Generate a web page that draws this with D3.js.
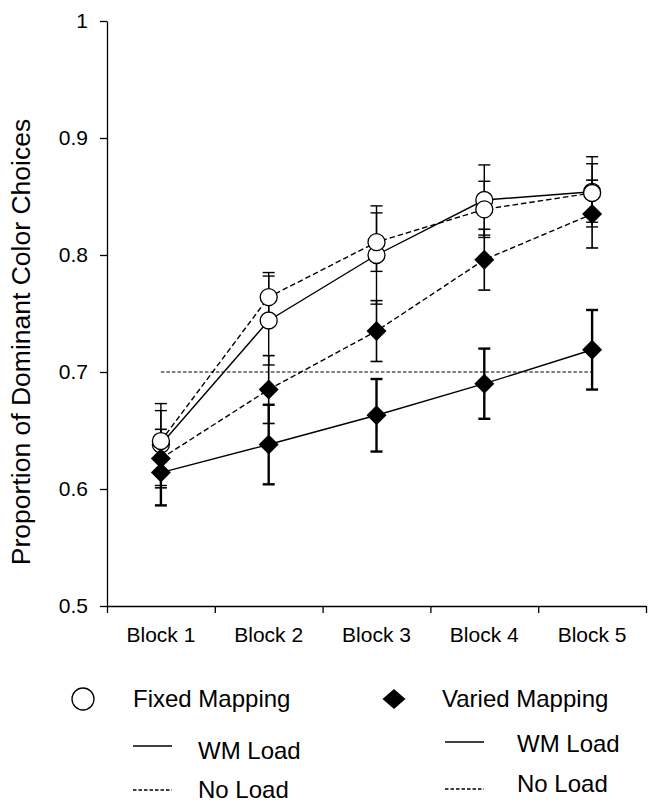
<!DOCTYPE html>
<html>
<head>
<meta charset="utf-8">
<script src="https://cdn.jsdelivr.net/npm/d3@7"></script>
<style>
  body { margin: 0; background: #fff; }
  svg { font-family: "Liberation Sans", Arial, sans-serif; }
</style>
</head>
<body>
<svg id="chart" width="649" height="802"></svg>
<script>
var blocks = ["Block 1", "Block 2", "Block 3", "Block 4", "Block 5"];
var yTicks = [0.5, 0.6, 0.7, 0.8, 0.9, 1];

var fixedWM = [0.638, 0.744, 0.800, 0.847, 0.854];
var fixedWMErr = [0.035, 0.038, 0.042, 0.030, 0.030];
var fixedNL = [0.641, 0.764, 0.811, 0.839, 0.853];
var fixedNLErr = [0.026, 0.021, 0.025, 0.024, 0.025];
var variedWM = [0.614, 0.638, 0.663, 0.690, 0.719];
var variedWMErr = [0.028, 0.034, 0.031, 0.030, 0.034];
var variedNL = [0.626, 0.685, 0.735, 0.796, 0.835];
var variedNLErr = [0.025, 0.029, 0.026, 0.026, 0.029];
var refLevel = 0.7;

var series = [
  { name: "Fixed WM", vals: fixedWM, err: fixedWMErr, marker: "circle", dash: null, ew: 1.4 },
  { name: "Fixed NL", vals: fixedNL, err: fixedNLErr, marker: "circle", dash: "5.5,3", ew: 1.4 },
  { name: "Varied WM", vals: variedWM, err: variedWMErr, marker: "diamond", dash: null, ew: 2.4 },
  { name: "Varied NL", vals: variedNL, err: variedNLErr, marker: "diamond", dash: "5.5,3", ew: 1.6 }
];

var svg = d3.select("#chart");
var plotLeft = 107, plotRight = 646, plotTop = 21, plotBottom = 606;

var x = d3.scaleBand().domain(blocks).range([plotLeft, plotRight]).padding(0);
var y = d3.scaleLinear().domain([0.5, 1]).range([plotBottom, plotTop]);
function cx(i) { return x(blocks[i]) + x.bandwidth() / 2; }

// y axis
var yAxis = svg.append("g")
    .attr("transform", "translate(" + plotLeft + ",0)")
    .call(d3.axisLeft(y).tickValues(yTicks).tickSize(7).tickSizeOuter(0).tickPadding(12)
      .tickFormat(function(d) { return d === 1 ? "1" : d.toFixed(1); }));
yAxis.selectAll("text").style("font-size", "21px").attr("fill", "#000");

// x axis: boundary ticks + centred labels
var xb = d3.scaleLinear().domain([0, blocks.length]).range([plotLeft, plotRight]);
svg.append("g")
    .attr("transform", "translate(0," + plotBottom + ")")
    .call(d3.axisBottom(xb).ticks(5).tickSize(7).tickSizeOuter(0).tickFormat(""));
var xAxis = svg.append("g")
    .attr("transform", "translate(0," + plotBottom + ")")
    .call(d3.axisBottom(x).tickSize(0).tickPadding(21));
xAxis.select(".domain").remove();
xAxis.selectAll("text").style("font-size", "21px").attr("fill", "#000");

svg.selectAll(".domain, .tick line").attr("stroke", "#000").attr("stroke-width", 1.3);

// y title
svg.append("text")
    .attr("transform", "translate(30,342) rotate(-90)")
    .attr("text-anchor", "middle")
    .style("font-size", "26.5px")
    .text("Proportion of Dominant Color Choices");

// reference line at 0.7
svg.append("line")
    .attr("x1", cx(0)).attr("x2", cx(blocks.length - 1))
    .attr("y1", y(refLevel)).attr("y2", y(refLevel))
    .attr("stroke", "#000").attr("stroke-width", 1.2)
    .attr("stroke-dasharray", "3.5,2");

var line = d3.line()
    .x(function(d, i) { return cx(i); })
    .y(function(d) { return y(d); });

series.forEach(function(s) {
  svg.append("path")
      .datum(s.vals)
      .attr("d", line)
      .attr("fill", "none")
      .attr("stroke", "#000")
      .attr("stroke-width", 1.4)
      .attr("stroke-dasharray", s.dash);
});

// error bars
series.forEach(function(s) {
  var g = svg.append("g").attr("stroke", "#000").attr("stroke-width", s.ew);
  s.vals.forEach(function(v, i) {
    var px = cx(i), y0 = y(v - s.err[i]), y1 = y(v + s.err[i]);
    g.append("line").attr("x1", px).attr("x2", px).attr("y1", y0).attr("y2", y1);
    g.append("line").attr("x1", px - 6).attr("x2", px + 6).attr("y1", y0).attr("y2", y0);
    g.append("line").attr("x1", px - 6).attr("x2", px + 6).attr("y1", y1).attr("y2", y1);
  });
});

function diamond(w, h) {
  return "M0," + (-h) + "L" + w + ",0L0," + h + "L" + (-w) + ",0Z";
}

// markers
series.forEach(function(s) {
  var g = svg.append("g");
  s.vals.forEach(function(v, i) {
    if (s.marker === "circle") {
      g.append("circle").attr("cx", cx(i)).attr("cy", y(v)).attr("r", 8.5)
        .attr("fill", "#fff").attr("stroke", "#000").attr("stroke-width", 1.3);
    } else {
      g.append("path").attr("d", diamond(10, 10))
        .attr("transform", "translate(" + cx(i) + "," + y(v) + ")")
        .attr("fill", "#000");
    }
  });
});

// legend
var lg = svg.append("g").style("font-size", "24px");
lg.append("circle").attr("cx", 83).attr("cy", 699).attr("r", 11)
  .attr("fill", "#fff").attr("stroke", "#000").attr("stroke-width", 1.3);
lg.append("text").attr("x", 133).attr("y", 707).text("Fixed Mapping");
lg.append("path").attr("d", diamond(11.5, 10)).attr("transform", "translate(394,699)").attr("fill", "#000");
lg.append("text").attr("x", 442).attr("y", 707).text("Varied Mapping");

var legRows = [
  { lx: 133, tx: 198, ly: 746, ty: 759, dash: null, label: "WM Load" },
  { lx: 133, tx: 198, ly: 790, ty: 798, dash: "3.5,2", label: "No Load" },
  { lx: 445, tx: 517, ly: 742, ty: 752, dash: null, label: "WM Load" },
  { lx: 445, tx: 517, ly: 789, ty: 792, dash: "3.5,2", label: "No Load" }
];
legRows.forEach(function(r) {
  lg.append("line").attr("x1", r.lx).attr("x2", r.lx + 39).attr("y1", r.ly).attr("y2", r.ly)
    .attr("stroke", "#000").attr("stroke-width", 1.3).attr("stroke-dasharray", r.dash);
  lg.append("text").attr("x", r.tx).attr("y", r.ty).text(r.label);
});
</script>
</body>
</html>
